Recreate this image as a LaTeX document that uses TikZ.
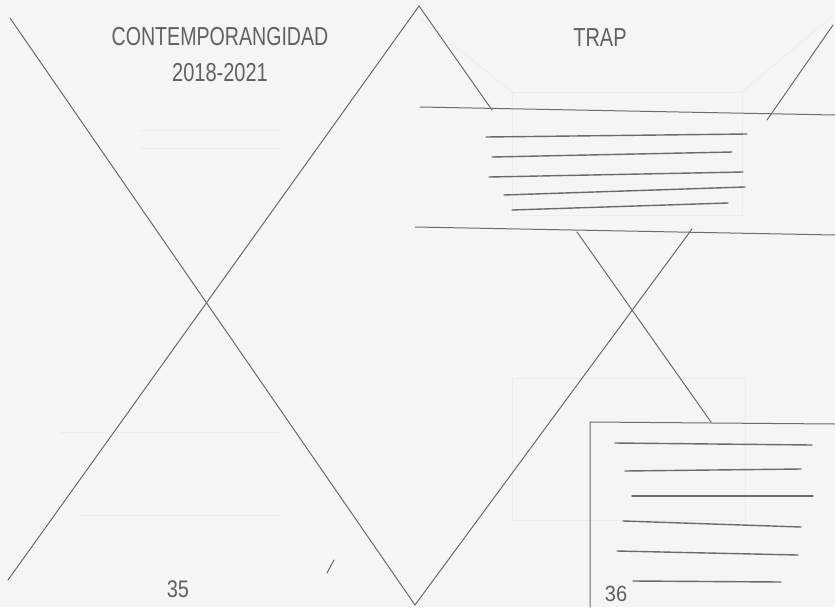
\documentclass[tikz,border=0pt]{standalone}
\usepackage{fontspec}
\setmainfont{Liberation Sans}
\begin{document}
\begin{tikzpicture}[x=0.75pt,y=-0.75pt,
  pencil/.style={draw=black!58,line width=0.75pt,line cap=round},
  stroke/.style={draw=black!58,line width=1.05pt,line cap=round},
  ghost/.style={draw=black!7,line width=0.6pt},
  hand/.style={text=black!62,inner sep=0pt,font=\fontsize{15}{15}\selectfont}]
\fill[black!4] (0,0) rectangle (835,607);
\useasboundingbox (0,0) rectangle (835,607);
% faint show-through lines
\draw[ghost] (512,92) rectangle (742,215);
\draw[ghost] (512,378) rectangle (745,520);
\draw[ghost] (420,18) -- (512,92);
\draw[ghost] (830,18) -- (742,92);
\draw[ghost] (140,130) -- (280,130);
\draw[ghost] (140,148) -- (280,148);
\draw[ghost] (60,432) -- (280,432);
\draw[ghost] (80,515) -- (280,515);
% left page X
\draw[pencil] (10,18) -- (415,605);
\draw[pencil] (419,6) -- (8,580);
% right page
\draw[pencil] (419,6) -- (492,110);
\draw[pencil] (833,25) -- (767,120);
\draw[pencil] (420,107) -- (835,115);
\draw[pencil] (415,227) -- (835,235);
\draw[pencil] (577,232) -- (711,422);
\draw[pencil] (692,229) -- (415,605);
\draw[pencil] (590,607) -- (590,422) -- (835,424);
% text strokes top block
\draw[stroke] (486,137) -- (747,134);
\draw[stroke] (492,157) -- (732,152);
\draw[stroke] (489,177) -- (743,172);
\draw[stroke] (504,195) -- (745,187);
\draw[stroke] (512,210) -- (728,203);
% text strokes lower box
\draw[stroke] (615,443) -- (812,445);
\draw[stroke] (625,471) -- (801,469);
\draw[stroke] (632,496) -- (813,496);
\draw[stroke] (623,521) -- (801,527);
\draw[stroke] (617,551) -- (798,555);
\draw[stroke] (633,581) -- (781,582);
% small tick
\draw[pencil] (327,573) -- (334,560);
% texts
\node[hand,xscale=0.98,yscale=1.3] (title) at (220,37) {CONTEMPORANGIDAD};
\node[hand,yscale=1.3] (years) at (220,73) {2018-2021};
\node[hand,yscale=1.3] (trap) at (600,38) {TRAP};
\node[hand,yscale=1.2] (p35) at (178,589) {35};
\node[hand,yscale=1.1] (p36) at (616,594) {36};
\end{tikzpicture}
\end{document}
